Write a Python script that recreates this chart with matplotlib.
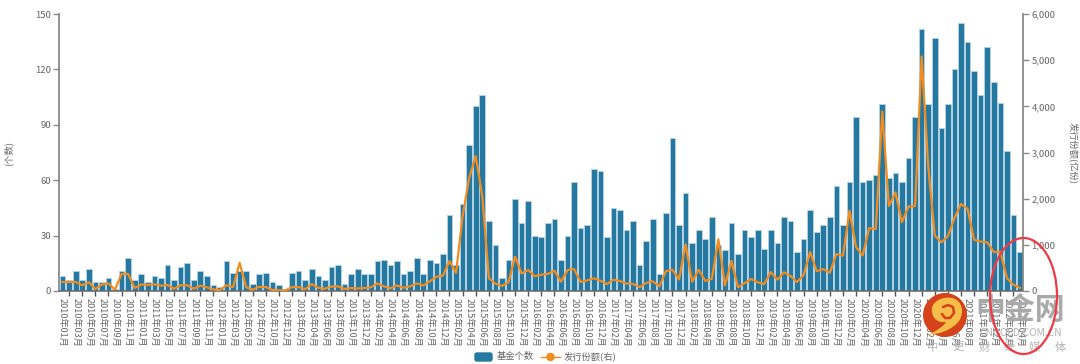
import matplotlib
matplotlib.use("Agg")
import matplotlib.pyplot as plt
from matplotlib.patches import Ellipse, Circle, Rectangle, PathPatch, FancyBboxPatch
from matplotlib.lines import Line2D
from matplotlib.path import Path
import numpy as np

plt.rcParams['font.family'] = ['Noto Sans CJK SC', 'DejaVu Sans']

year_months = [
    (2010, [1,2,3,4,5,6,7,8,9,10,11,12]),
    (2011, [1,2,3,4,5,6,7,8,9,10,11,12]),
    (2012, [1,2,3,4,5,6,7,8,10,11,12]),
    (2013, [1,2,3,4,5,6,7,8,9,10,11,12]),
    (2014, [1,2,3,4,5,6,7,8,9,10,11,12]),
    (2015, [1,2,3,4,5,6,7,8,9,10,11,12]),
    (2016, [1,2,3,4,5,6,7,8,9,10,11,12]),
    (2017, [1,2,3,4,5,6,7,8,9,10,11,12]),
    (2018, [1,2,3,4,5,6,7,8,9,10,11,12]),
    (2019, [1,2,3,4,5,6,7,8,9,10,11,12]),
    (2020, [1,2,3,4,5,6,7,8,9,10,11,12]),
    (2021, [1,2,3,4,5,6,7,8,9,10,11,12]),
    (2022, [1,2,3,4]),
]
categories = [f"{y}年{m:02d}月" for y, ms in year_months for m in ms]

fund_counts = [
    8,6,11,6,12,5,5,7,1,11,18,6,9,5,8,7,14,6,13,15,6,11,8,3,2,16,10,11,11,4,
    9,10,5,3,1,10,11,6,12,8,6,13,14,4,9,12,9,9,16,17,14,16,9,11,18,9,17,15,20,41,
    14,47,79,100,106,38,25,7,17,50,37,49,30,29,37,39,17,30,59,34,36,66,65,29,45,44,33,38,14,27,
    39,9,42,83,36,53,26,33,28,40,25,22,37,20,33,29,33,23,33,26,40,38,21,28,44,32,36,40,57,36,
    59,94,59,60,63,101,61,64,59,72,94,142,101,137,88,101,120,145,135,119,106,132,113,102,76,41,21,
]
issue_shares = [
    195,195,195,123,190,45,140,165,30,370,370,65,140,130,145,115,130,50,125,125,50,115,80,35,20,125,85,610,80,30,
    90,85,25,15,15,85,85,40,150,70,50,95,100,45,65,55,65,80,165,100,60,120,70,100,165,120,210,310,330,650,
    390,1620,2450,2925,2050,280,160,110,190,745,380,455,320,355,370,440,200,455,475,195,230,275,225,150,245,215,160,150,85,175,
    210,100,430,460,250,1010,200,460,220,265,1120,120,650,80,170,260,190,150,410,245,405,325,195,345,845,430,475,395,800,765,
    1740,950,770,1365,1340,3890,1840,2135,1490,1830,1840,5080,2700,1200,1055,1185,1580,1885,1780,1110,1070,1055,845,845,280,135,65,
]
left_ticks = [0,30,60,90,120,150]
right_ticks = [0,1000,2000,3000,4000,5000,6000]
left_title = "(个数)"
right_title = "发行份额(亿份)"
series_names = ["基金个数", "发行份额(右)"]
brand_name = "中金网"
brand_url = "CNGOLD.COM.CN"
brand_slogan = list("中更财经媒体")

W, H = 1080, 364
BLUE = "#25789f"
EDGE = "#b7d5e6"
ORANGE = "#f28c1e"
GREY = "#666666"
AXC = "#8a8a8a"

fig = plt.figure(figsize=(W/100, H/100), dpi=100, facecolor="white")
L, R, T, B = 59.3, 1023.3, 14, 291
ax = fig.add_axes([L/W, 1-B/H, (R-L)/W, (B-T)/H])
x = np.arange(len(categories))
ax.bar(x, fund_counts, width=0.86, color=BLUE, edgecolor=EDGE, linewidth=0.6, zorder=2)
ax.set_xlim(-0.5, len(categories)-0.5)
ax.set_ylim(0, 150)
ax.set_yticks(left_ticks)
ax.tick_params(axis='y', length=4, width=1, color=AXC, labelcolor=GREY, labelsize=6.9, pad=2)
ax.set_xticks(x[::2])
ax.set_xticklabels(categories[::2], rotation=-90, ha='center', va='top', fontsize=6.6, color=GREY)
ax.tick_params(axis='x', which='major', length=0, pad=5)
ax.set_xticks(x[1::2], minor=True)
ax.tick_params(axis='x', which='minor', length=3.5, width=1, color="#555555")
for s in ['top','right']:
    ax.spines[s].set_visible(False)
ax.spines['left'].set_color(AXC); ax.spines['left'].set_linewidth(1.3)
ax.spines['bottom'].set_color("#666666"); ax.spines['bottom'].set_linewidth(1.1)

ax2 = ax.twinx()
ax2.plot(x, issue_shares, color=ORANGE, lw=1.6, zorder=5, solid_joinstyle='round')
ax2.set_ylim(0, 6000)
ax2.set_yticks(right_ticks)
ax2.set_yticklabels([f"{v:,}" for v in right_ticks])
ax2.tick_params(axis='y', length=4, width=1, color=AXC, labelcolor=GREY, labelsize=6.9, pad=2)
for s in ['top','left','bottom']:
    ax2.spines[s].set_visible(False)
ax2.spines['right'].set_color(AXC); ax2.spines['right'].set_linewidth(1.3)

def px(xp, yp):
    return xp/W, 1-yp/H

fig.text(*px(8, 153), left_title, rotation=90, ha='center', va='center', fontsize=6.7, color=GREY)
fig.text(*px(1072, 153), right_title, rotation=-90, ha='center', va='center', fontsize=6.7, color=GREY)

ov = fig.add_axes([0, 0, 1, 1], facecolor='none')
ov.set_xlim(0, W); ov.set_ylim(H, 0); ov.axis('off')

# legend
ov.add_patch(FancyBboxPatch((475, 353), 17, 8, boxstyle="round,pad=0,rounding_size=2",
                            facecolor=BLUE, edgecolor=BLUE, lw=1))
ov.text(497, 357, series_names[0], fontsize=6.7, color=GREY, va='center', ha='left')
ov.add_line(Line2D([541, 560], [357, 357], color=ORANGE, lw=1))
ov.add_patch(Circle((550.5, 357), 3.5, facecolor=ORANGE, edgecolor=ORANGE))
ov.text(564, 357, series_names[1], fontsize=6.7, color=GREY, va='center', ha='left')

# watermark logo
ov.add_patch(Circle((945, 315), 22, facecolor="#d4431a", edgecolor="none", zorder=6))
cloud = Path([(932, 312), (930, 302), (942, 296), (952, 298), (962, 300), (965, 312), (959, 321),
              (952, 330), (940, 334), (928, 335), (938, 330), (944, 326), (946, 322),
              (938, 323), (933, 319), (932, 312)],
             [Path.MOVETO] + [Path.CURVE4]*15)
ov.add_patch(PathPatch(cloud, facecolor="#f6bd48", edgecolor="none", zorder=7))
ov.add_line(Line2D([942, 945, 950, 954, 953, 948, 943], [314, 318, 318, 313, 307, 305, 307],
                   color="#d4431a", lw=1.8, zorder=8, solid_capstyle='round'))
ov.text(1020, 310, brand_name, fontsize=21.5, fontweight='bold', color="#a9a9a9", ha='center', va='center', zorder=6)
ov.text(1021, 333, brand_url, fontsize=7.3, color="#b0b0b0", ha='center', va='center', zorder=6)
for i, ch in enumerate(brand_slogan):
    ov.text(933 + i*25.4, 347, ch, fontsize=8.2, color="#b5b5b5", ha='center', va='center', zorder=6)

# hand-drawn red ring
ov.add_patch(Ellipse((1023.5, 296), 67, 116, facecolor='none', edgecolor="#ee3b43", lw=1.6, zorder=9))

fig.savefig("out.png", dpi=100)
